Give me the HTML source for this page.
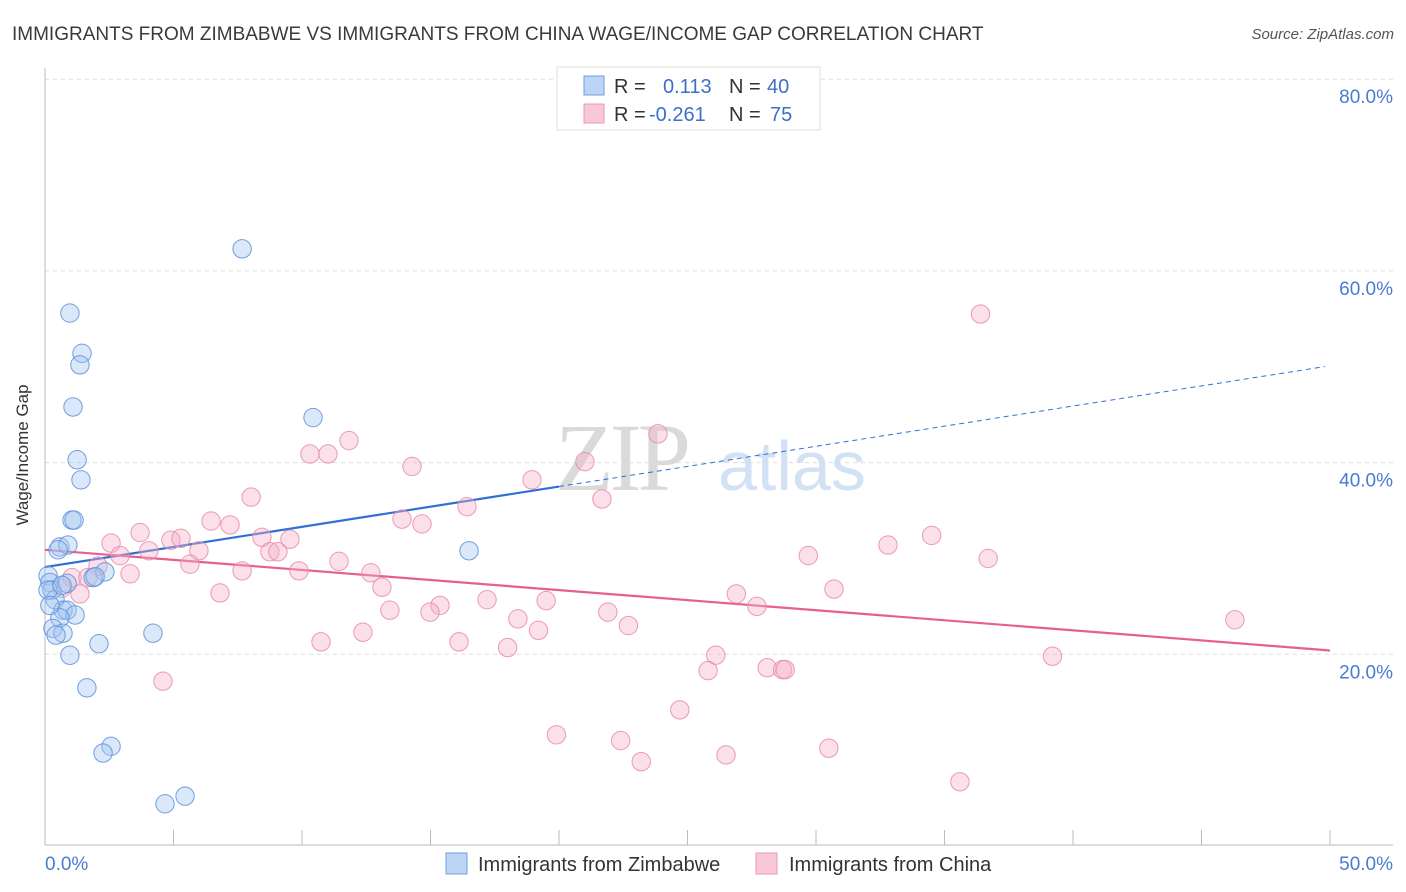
<!DOCTYPE html>
<html><head><meta charset="utf-8"><style>
body{margin:0;background:#fff;font-family:"Liberation Sans",sans-serif;}
svg{display:block}
</style></head><body>
<svg id="chart" width="1406" height="892" xmlns="http://www.w3.org/2000/svg">
<text x="12" y="40" font-size="19" fill="#3a3a3a">IMMIGRANTS FROM ZIMBABWE VS IMMIGRANTS FROM CHINA WAGE/INCOME GAP CORRELATION CHART</text>
<text x="1394" y="39" font-size="15" fill="#555" font-style="italic" text-anchor="end">Source: ZipAtlas.com</text>
<g>
<text x="555" y="490" font-family="Liberation Serif,serif" font-size="96" fill="#dadada" letter-spacing="-4">ZIP</text>
<text x="718" y="490" font-size="70" fill="#d2e1f3">atlas</text>
</g>
<g id="grid"></g>
<g id="axes"></g>
<g id="trend"></g>
<g id="pts"></g>
<text x="28" y="455" font-size="17" fill="#333" transform="rotate(-90 28 455)" text-anchor="middle">Wage/Income Gap</text>
<g>
<rect x="557" y="67" width="263" height="63" fill="#fff" stroke="#ddd"/>
<rect x="584" y="76" width="20" height="19" fill="#bcd5f5" stroke="#6f9fdf"/>
<rect x="584" y="104" width="20" height="19" fill="#f9c8d8" stroke="#ec98b4"/>
<text x="614" y="93" font-size="20" fill="#333">R = </text><text x="663" y="93" font-size="20" fill="#3d6fc9">0.113</text>
<text x="729" y="93" font-size="20" fill="#333">N = </text><text x="767" y="93" font-size="20" fill="#3d6fc9">40</text>
<text x="614" y="121" font-size="20" fill="#333">R = </text><text x="649" y="121" font-size="20" fill="#3d6fc9">-0.261</text>
<text x="729" y="121" font-size="20" fill="#333">N = </text><text x="770" y="121" font-size="20" fill="#3d6fc9">75</text>
</g>
<g>
<rect x="446" y="853" width="21" height="21" fill="#bcd5f5" stroke="#6f9fdf"/>
<text x="478" y="871" font-size="20" fill="#333">Immigrants from Zimbabwe</text>
<rect x="756" y="853" width="21" height="21" fill="#f9c8d8" stroke="#ec98b4"/>
<text x="789" y="871" font-size="20" fill="#333">Immigrants from China</text>
</g>
</svg>
<script>
const yTicks=[20,40,60,80];
const yTickLabels=["20.0%","40.0%","60.0%","80.0%"];
const xTicks=[0,5,10,15,20,25,30,35,40,45,50];
const xEndLabels=["0.0%","50.0%"];
const zimX=[7.67,0.97,1.44,1.36,1.09,10.43,1.25,1.40,1.05,1.13,0.58,0.89,0.51,16.5,2.33,1.87,1.95,0.12,0.19,0.27,0.86,0.39,0.70,0.86,1.17,0.58,0.31,0.70,0.43,4.20,2.10,0.97,1.63,2.57,2.26,5.45,4.67,0.12,0.19,0.66];
const zimY=[62.3,55.6,51.4,50.2,45.8,44.7,40.3,38.2,34.0,34.0,31.2,31.4,30.9,30.8,28.6,28.0,28.1,28.2,27.5,26.7,27.4,25.7,24.6,24.6,24.1,23.8,22.7,22.2,22.0,22.2,21.1,19.9,16.5,10.4,9.7,5.2,4.4,26.7,25.1,27.2];
const chnX=[36.4,23.85,11.83,10.31,11.01,14.28,21.01,18.95,8.02,21.67,16.42,13.89,14.67,6.46,7.20,3.70,34.5,4.90,5.29,8.44,9.53,2.57,32.8,4.04,5.99,2.92,8.75,9.06,29.7,36.7,11.44,5.64,2.06,7.67,9.88,12.68,3.31,1.05,1.67,13.11,0.66,30.7,6.81,1.36,26.9,17.2,19.5,27.7,15.37,13.42,14.98,21.9,18.4,46.3,22.7,19.2,12.37,10.74,16.11,18.0,26.1,39.2,28.1,28.7,28.8,25.8,4.59,24.7,19.9,22.4,30.5,26.5,23.2,35.6];
const chnY=[55.5,43.0,42.3,40.9,40.9,39.6,40.1,38.2,36.4,36.2,35.4,34.1,33.6,33.9,33.5,32.7,32.4,31.9,32.1,32.2,32.0,31.6,31.4,30.8,30.8,30.3,30.7,30.7,30.3,30.0,29.7,29.4,29.2,28.7,28.7,28.5,28.4,28.0,28.0,27.0,26.9,26.8,26.4,26.3,26.3,25.7,25.6,25.0,25.1,24.6,24.4,24.4,23.7,23.6,23.0,22.5,22.3,21.3,21.3,20.7,19.9,19.8,18.6,18.4,18.4,18.3,17.2,14.2,11.6,11.0,10.2,9.5,8.8,6.7];
const zimTrend=[29.1,50.1];
const zimSolidEnd=[20];
const chnTrend=[30.9,20.4];

const NS="http://www.w3.org/2000/svg";
const X=v=>45+v*(1330-45)/50;
const Y=v=>846-v*(191.7/20);
function mk(tag,attrs,parent){const e=document.createElementNS(NS,tag);for(const k in attrs)e.setAttribute(k,attrs[k]);document.getElementById(parent).appendChild(e);return e;}
yTicks.forEach((t,i)=>{
  const g=mk('line',{x1:45,x2:1393,y1:Y(t),y2:Y(t),stroke:'#ddd','stroke-dasharray':'4,4'},'grid');
  
  
  const l=mk('text',{x:1393,y:Y(t)+24,'font-size':19,fill:'#4a7bd0','text-anchor':'end'},'grid');
  l.textContent=yTickLabels[i];
  
  
});
let a=mk('line',{x1:45,x2:45,y1:68,y2:845,stroke:'#bbb'},'axes');


a=mk('line',{x1:45,x2:1393,y1:845,y2:845,stroke:'#bbb'},'axes');


xTicks.forEach(t=>{
  const e=mk('line',{x1:X(t),x2:X(t),y1:830,y2:845,stroke:'#bbb'},'axes');
  
  
});
let t0=mk('text',{x:45,y:870,'font-size':19,fill:'#4a7bd0'},'axes');t0.textContent=xEndLabels[0];


let t1=mk('text',{x:1393,y:870,'font-size':19,fill:'#4a7bd0','text-anchor':'end'},'axes');t1.textContent=xEndLabels[1];


function pts(xs,ys,fill,stroke,name){xs.forEach((x,i)=>{
  const c=mk('circle',{cx:X(x),cy:Y(ys[i]),r:9.2,fill:fill,'fill-opacity':0.4,stroke:stroke,'stroke-width':1,'stroke-opacity':0.85},'pts');
  
  
});}
pts(chnX,chnY,'#f5b0c8','#e88aaa','point-china');
pts(zimX,zimY,'#a6c6f0','#5b8fd9','point-zimbabwe');
const zy=x=>zimTrend[0]+(zimTrend[1]-zimTrend[0])*x/50;
let l1=mk('line',{x1:X(0),y1:Y(zy(0)),x2:X(zimSolidEnd[0]),y2:Y(zy(zimSolidEnd[0])),stroke:'#2f6fd6','stroke-width':2.2},'trend');


let l2=mk('line',{x1:X(zimSolidEnd[0]),y1:Y(zy(zimSolidEnd[0])),x2:X(49.8),y2:Y(zy(49.8)),stroke:'#2f6fd6','stroke-width':1,'stroke-dasharray':'5,4'},'trend');


let l3=mk('line',{x1:X(0),y1:Y(chnTrend[0]),x2:X(50),y2:Y(chnTrend[1]),stroke:'#e5608f','stroke-width':2.2},'trend');


</script>
</body></html>
